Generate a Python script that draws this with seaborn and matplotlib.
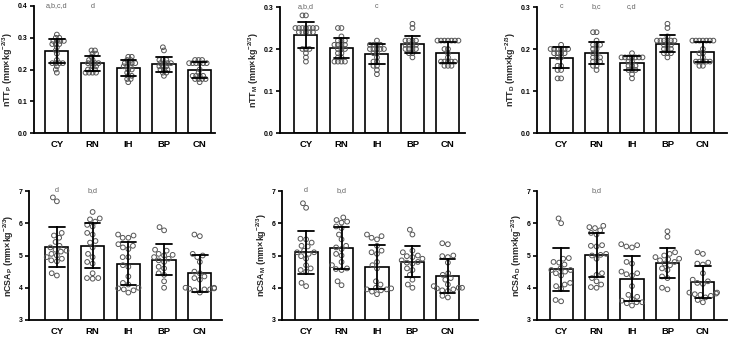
import matplotlib
matplotlib.use("Agg")
import matplotlib.pyplot as plt
import seaborn as sns
import pandas as pd

sns.set_theme(style="ticks")
plt.rcParams['font.family'] = ['Liberation Sans', 'DejaVu Sans']
plt.rcParams['font.weight'] = 'bold'
plt.rcParams['mathtext.fontset'] = 'custom'
plt.rcParams['mathtext.rm'] = 'Liberation Sans:bold'
plt.rcParams['mathtext.bf'] = 'Liberation Sans:bold'

groups = ["CY", "RN", "IH", "BP", "CN"]

# nTT_P
ntt_p_cy = [0.31, 0.30, 0.30, 0.29, 0.29, 0.29, 0.29, 0.28, 0.28, 0.28, 0.27, 0.26, 0.25, 0.23, 0.22, 0.22, 0.22, 0.22, 0.21, 0.20, 0.19]
ntt_p_rn = [0.26, 0.26, 0.25, 0.25, 0.24, 0.23, 0.23, 0.22, 0.22, 0.22, 0.22, 0.21, 0.21, 0.20, 0.20, 0.20, 0.19, 0.19, 0.19, 0.19]
ntt_p_ih = [0.24, 0.24, 0.23, 0.23, 0.22, 0.22, 0.22, 0.22, 0.21, 0.21, 0.21, 0.20, 0.20, 0.19, 0.18, 0.18, 0.17, 0.17, 0.16]
ntt_p_bp = [0.27, 0.26, 0.23, 0.23, 0.23, 0.22, 0.22, 0.22, 0.22, 0.21, 0.21, 0.21, 0.20, 0.20, 0.20, 0.19, 0.19, 0.18]
ntt_p_cn = [0.23, 0.23, 0.23, 0.22, 0.22, 0.22, 0.22, 0.22, 0.22, 0.20, 0.19, 0.18, 0.18, 0.18, 0.18, 0.17, 0.17, 0.17, 0.17, 0.16]

# nTT_M
ntt_m_cy = [0.28, 0.28, 0.25, 0.25, 0.25, 0.25, 0.25, 0.25, 0.25, 0.24, 0.24, 0.24, 0.24, 0.24, 0.20, 0.20, 0.20, 0.19, 0.18, 0.17]
ntt_m_rn = [0.25, 0.25, 0.23, 0.22, 0.22, 0.22, 0.21, 0.21, 0.21, 0.21, 0.20, 0.20, 0.20, 0.19, 0.19, 0.18, 0.18, 0.17, 0.17, 0.17, 0.17]
ntt_m_ih = [0.22, 0.21, 0.21, 0.21, 0.21, 0.20, 0.20, 0.20, 0.20, 0.20, 0.19, 0.19, 0.18, 0.17, 0.17, 0.16, 0.16, 0.15, 0.14]
ntt_m_bp = [0.26, 0.25, 0.22, 0.22, 0.22, 0.22, 0.21, 0.21, 0.21, 0.21, 0.20, 0.20, 0.20, 0.20, 0.19, 0.19, 0.18]
ntt_m_cn = [0.22, 0.22, 0.22, 0.22, 0.22, 0.22, 0.22, 0.20, 0.20, 0.19, 0.18, 0.17, 0.17, 0.17, 0.17, 0.17, 0.16, 0.16, 0.16]

# nTT_D
ntt_d_cy = [0.21, 0.20, 0.20, 0.20, 0.20, 0.20, 0.20, 0.19, 0.19, 0.19, 0.19, 0.18, 0.18, 0.16, 0.16, 0.15, 0.15, 0.13, 0.13]
ntt_d_rn = [0.24, 0.24, 0.22, 0.21, 0.21, 0.21, 0.20, 0.20, 0.19, 0.19, 0.18, 0.18, 0.18, 0.17, 0.17, 0.17, 0.16, 0.16, 0.15]
ntt_d_ih = [0.19, 0.18, 0.18, 0.18, 0.18, 0.18, 0.18, 0.18, 0.17, 0.17, 0.16, 0.16, 0.16, 0.15, 0.15, 0.15, 0.14, 0.13]
ntt_d_bp = [0.26, 0.25, 0.23, 0.22, 0.22, 0.22, 0.22, 0.22, 0.22, 0.21, 0.21, 0.21, 0.20, 0.20, 0.20, 0.19, 0.19, 0.19, 0.18]
ntt_d_cn = [0.22, 0.22, 0.22, 0.22, 0.22, 0.22, 0.22, 0.20, 0.19, 0.19, 0.18, 0.17, 0.17, 0.17, 0.17, 0.17, 0.16, 0.16]

# nCSA_P
ncsa_p_cy = [6.80, 6.68, 5.70, 5.62, 5.55, 5.42, 5.30, 5.25, 5.18, 5.15, 5.12, 5.05, 5.00, 4.95, 4.90, 4.85, 4.82, 4.45, 4.38]
ncsa_p_rn = [6.35, 6.15, 6.12, 6.05, 5.95, 5.90, 5.70, 5.65, 5.45, 5.40, 5.25, 5.05, 4.95, 4.80, 4.75, 4.45, 4.30, 4.30, 4.28]
ncsa_p_ih = [5.65, 5.62, 5.55, 5.55, 5.35, 5.30, 5.25, 5.20, 4.95, 4.95, 4.70, 4.65, 4.35, 4.10, 4.15, 4.00, 3.98, 3.95, 3.92, 3.85]
ncsa_p_bp = [5.88, 5.78, 5.18, 5.15, 5.05, 5.02, 5.00, 4.95, 4.90, 4.85, 4.80, 4.65, 4.60, 4.45, 4.40, 4.20, 4.00]
ncsa_p_cn = [5.65, 5.60, 5.05, 5.00, 4.95, 4.80, 4.50, 4.45, 4.35, 4.30, 4.25, 4.00, 4.00, 3.98, 3.97, 3.95, 3.95, 3.92, 3.85]

# nCSA_M
ncsa_m_cy = [6.62, 6.48, 5.52, 5.50, 5.40, 5.30, 5.28, 5.10, 5.15, 5.10, 5.05, 4.98, 4.90, 4.70, 4.60, 4.55, 4.50, 4.15, 4.05]
ncsa_m_rn = [6.18, 6.10, 6.05, 6.02, 5.90, 5.85, 5.65, 5.50, 5.30, 5.25, 5.20, 5.05, 5.00, 4.80, 4.70, 4.60, 4.58, 4.55, 4.20, 4.08]
ncsa_m_ih = [5.65, 5.60, 5.55, 5.50, 5.30, 5.15, 5.10, 5.05, 4.80, 4.70, 4.60, 4.20, 4.10, 4.00, 3.98, 3.95, 3.95, 3.92, 3.88, 3.80]
ncsa_m_bp = [5.80, 5.65, 5.15, 5.10, 5.00, 4.98, 4.95, 4.90, 4.85, 4.80, 4.78, 4.75, 4.60, 4.55, 4.40, 4.25, 4.10, 4.00]
ncsa_m_cn = [5.38, 5.35, 5.00, 4.98, 4.95, 4.78, 4.45, 4.40, 4.30, 4.25, 4.10, 4.05, 4.00, 4.00, 3.98, 3.95, 3.92, 3.90, 3.75, 3.70]

# nCSA_D
ncsa_d_cy = [6.15, 6.00, 4.92, 4.90, 4.80, 4.78, 4.72, 4.60, 4.55, 4.55, 4.50, 4.45, 4.38, 4.15, 4.10, 4.05, 3.97, 3.62, 3.58]
ncsa_d_rn = [5.92, 5.88, 5.85, 5.78, 5.70, 5.65, 5.32, 5.30, 5.28, 5.05, 5.02, 5.00, 4.90, 4.45, 4.40, 4.30, 4.20, 4.10, 4.02, 4.00]
ncsa_d_ih = [5.35, 5.32, 5.28, 5.25, 4.80, 4.75, 4.50, 4.45, 4.42, 4.38, 4.05, 3.78, 3.72, 3.65, 3.60, 3.55, 3.55, 3.52, 3.45]
ncsa_d_bp = [5.75, 5.58, 5.10, 5.05, 5.00, 4.95, 4.90, 4.88, 4.85, 4.80, 4.75, 4.70, 4.60, 4.55, 4.35, 4.30, 4.00, 3.95]
ncsa_d_cn = [5.10, 5.05, 4.78, 4.75, 4.72, 4.45, 4.25, 4.20, 4.15, 4.12, 3.85, 3.85, 3.82, 3.80, 3.78, 3.75, 3.70, 3.62, 3.55]

# significance letters
letters_ntt_p = ["a,b,c,d", "d", "", "", ""]
letters_ntt_m = ["a,b,d", "", "c", "", ""]
letters_ntt_d = ["c", "b,c", "c,d", "", ""]
letters_ncsa_p = ["d", "b,d", "", "", ""]
letters_ncsa_m = ["d", "b,d", "", "", ""]
letters_ncsa_d = ["", "b,d", "", "", ""]

ylabels = [
    r"nTT$_\mathbf{P}$ (mm×kg$^{\mathbf{-2/3}}$)",
    r"nTT$_\mathbf{M}$ (mm×kg$^{\mathbf{-2/3}}$)",
    r"nTT$_\mathbf{D}$ (mm×kg$^{\mathbf{-2/3}}$)",
    r"nCSA$_\mathbf{P}$ (mm×kg$^{\mathbf{-2/3}}$)",
    r"nCSA$_\mathbf{M}$ (mm×kg$^{\mathbf{-2/3}}$)",
    r"nCSA$_\mathbf{D}$ (mm×kg$^{\mathbf{-2/3}}$)",
]

W, H = 733, 337
fig = plt.figure(figsize=(W / 100, H / 100), dpi=100)


def add_axes_px(left, right, top, bottom):
    return fig.add_axes([left / W, 1 - bottom / H, (right - left) / W, (bottom - top) / H])


panels = [
    dict(lists=[ntt_p_cy, ntt_p_rn, ntt_p_ih, ntt_p_bp, ntt_p_cn], letters=letters_ntt_p,
         box=(34, 215, 6, 133), xlim=(-0.64, 4.43), ylim=(0, 0.4),
         yticks=[0, 0.1, 0.2, 0.3, 0.4], fmt="{:.1f}", swarm=1.7),
    dict(lists=[ntt_m_cy, ntt_m_rn, ntt_m_ih, ntt_m_bp, ntt_m_cn], letters=letters_ntt_m,
         box=(280, 465, 7, 133), xlim=(-0.73, 4.48), ylim=(0, 0.3),
         yticks=[0, 0.1, 0.2, 0.3], fmt="{:.1f}", swarm=1.7),
    dict(lists=[ntt_d_cy, ntt_d_rn, ntt_d_ih, ntt_d_bp, ntt_d_cn], letters=letters_ntt_d,
         box=(537, 727, 7, 133), xlim=(-0.68, 4.68), ylim=(0, 0.3),
         yticks=[0, 0.1, 0.2, 0.3], fmt="{:.1f}", swarm=1.7),
    dict(lists=[ncsa_p_cy, ncsa_p_rn, ncsa_p_ih, ncsa_p_bp, ncsa_p_cn], letters=letters_ncsa_p,
         box=(29, 222, 191, 320), xlim=(-0.78, 4.62), ylim=(3, 7),
         yticks=[3, 4, 5, 6, 7], fmt="{:.0f}", swarm=3.2),
    dict(lists=[ncsa_m_cy, ncsa_m_rn, ncsa_m_ih, ncsa_m_bp, ncsa_m_cn], letters=letters_ncsa_m,
         box=(282, 478, 191, 320), xlim=(-0.68, 4.85), ylim=(3, 7),
         yticks=[3, 4, 5, 6, 7], fmt="{:.0f}", swarm=3.2),
    dict(lists=[ncsa_d_cy, ncsa_d_rn, ncsa_d_ih, ncsa_d_bp, ncsa_d_cn], letters=letters_ncsa_d,
         box=(537, 727, 191, 320), xlim=(-0.68, 4.68), ylim=(3, 7),
         yticks=[3, 4, 5, 6, 7], fmt="{:.0f}", swarm=3.2),
]

swarm_sets = []
for p, ylab in zip(panels, ylabels):
    ax = add_axes_px(*p["box"])
    df = pd.DataFrame({
        "group": [g for g, vals in zip(groups, p["lists"]) for _ in vals],
        "value": [v for vals in p["lists"] for v in vals],
    })
    sns.barplot(data=df, x="group", y="value", order=groups, errorbar="sd",
                capsize=0.43, width=0.65, color="white", saturation=1,
                edgecolor="black", linewidth=1.2,
                err_kws={"color": "black", "linewidth": 1.3, "zorder": 5},
                ax=ax, zorder=1)
    n0 = len(ax.collections)
    sns.swarmplot(data=df, x="group", y="value", order=groups, size=p["swarm"],
                  color="white", edgecolor="#555555", linewidth=0.7,
                  ax=ax, zorder=3, warn_thresh=1.0)
    swarm_sets.append(ax.collections[n0:])
    ax.set_xlim(*p["xlim"])
    ax.set_ylim(*p["ylim"])
    ax.set_yticks(p["yticks"])
    ax.set_yticklabels([p["fmt"].format(t) for t in p["yticks"]])
    ax.set_xlabel("")
    ax.set_ylabel(ylab, fontsize=6.4, fontweight="bold", labelpad=2)
    for s in ["top", "right"]:
        ax.spines[s].set_visible(False)
    for s in ["left", "bottom"]:
        ax.spines[s].set_linewidth(1.3)
        ax.spines[s].set_color("black")
    ax.tick_params(axis="y", direction="out", length=3, width=1.2, labelsize=5, pad=1.5, colors="black")
    ax.tick_params(axis="x", length=0, labelsize=6.8, pad=5, colors="black")
    for lab in ax.get_xticklabels() + ax.get_yticklabels():
        lab.set_fontweight("bold")
    ymax = p["ylim"][1]
    for i, t in enumerate(p["letters"]):
        if t:
            ax.text(i, ymax, t, ha="center", va="center", fontsize=5.2,
                    color="#666666", fontweight="normal", clip_on=False)

# lay out the swarms once, then freeze positions and set the drawn marker size
fig.canvas.draw()
for colls in swarm_sets:
    for c in colls:
        c.__dict__.pop("draw", None)
        c.set_sizes([3.4 ** 2])
        c.set_facecolor("none")
        c.set_edgecolor("#555555")

fig.savefig("out.png", dpi=100)
